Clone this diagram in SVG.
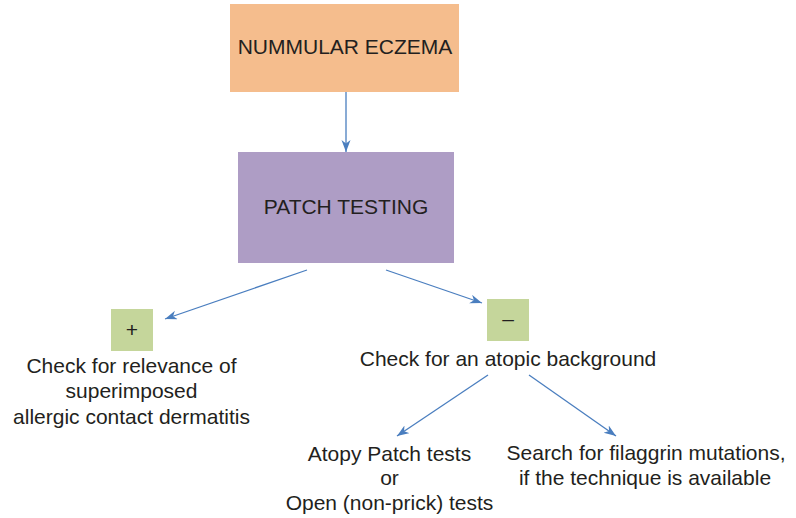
<svg xmlns="http://www.w3.org/2000/svg" width="796" height="518" viewBox="0 0 796 518">
  <style>
    .lbl { font-family: "Liberation Sans", Arial, Helvetica, sans-serif; font-size: 21px; fill: #231f20; text-anchor: middle; }
    .conn { stroke: #4a7ebf; stroke-width: 1.3; fill: none; marker-end: url(#head); }
  </style>
  <defs>
    <marker id="head" markerUnits="userSpaceOnUse" markerWidth="13" markerHeight="10" refX="12" refY="4.5" orient="auto">
      <path d="M0,0 L12,4.5 L0,9 L3.5,4.5 Z" fill="#4a7ebf"/>
    </marker>
  </defs>
  <rect width="796" height="518" fill="#ffffff"/>

  <g id="nummular-eczema">
    <rect x="230" y="4" width="229" height="88" fill="#f5bd8d"/>
    <text class="lbl" x="345" y="54">NUMMULAR ECZEMA</text>
  </g>

  <g id="patch-testing">
    <rect x="238" y="152" width="216" height="111" fill="#ae9dc5"/>
    <text class="lbl" x="346" y="214">PATCH TESTING</text>
  </g>

  <g id="positive">
    <rect x="111" y="309" width="42" height="42" fill="#c5d69b"/>
    <text class="lbl" x="132" y="337">+</text>
    <text class="lbl" x="131.5" y="373">Check for relevance of</text>
    <text class="lbl" x="131.5" y="398">superimposed</text>
    <text class="lbl" x="131.5" y="424">allergic contact dermatitis</text>
  </g>

  <g id="negative">
    <rect x="487" y="299" width="42" height="42" fill="#c5d69b"/>
    <text class="lbl" x="508" y="326">–</text>
    <text class="lbl" x="508" y="366">Check for an atopic background</text>
  </g>

  <g id="atopy-tests">
    <text class="lbl" x="389.5" y="461">Atopy Patch tests</text>
    <text class="lbl" x="389.5" y="485">or</text>
    <text class="lbl" x="389.5" y="510">Open (non-prick) tests</text>
  </g>

  <g id="filaggrin">
    <text class="lbl" x="646" y="460">Search for filaggrin mutations,</text>
    <text class="lbl" x="645" y="485">if the technique is available</text>
  </g>

  <g id="connectors">
    <line class="conn" x1="346" y1="92" x2="346" y2="152"/>
    <line class="conn" x1="307" y1="270" x2="165" y2="319"/>
    <line class="conn" x1="386" y1="270" x2="482" y2="303"/>
    <line class="conn" x1="488" y1="375" x2="397" y2="436"/>
    <line class="conn" x1="529" y1="375" x2="616" y2="436"/>
  </g>
</svg>
